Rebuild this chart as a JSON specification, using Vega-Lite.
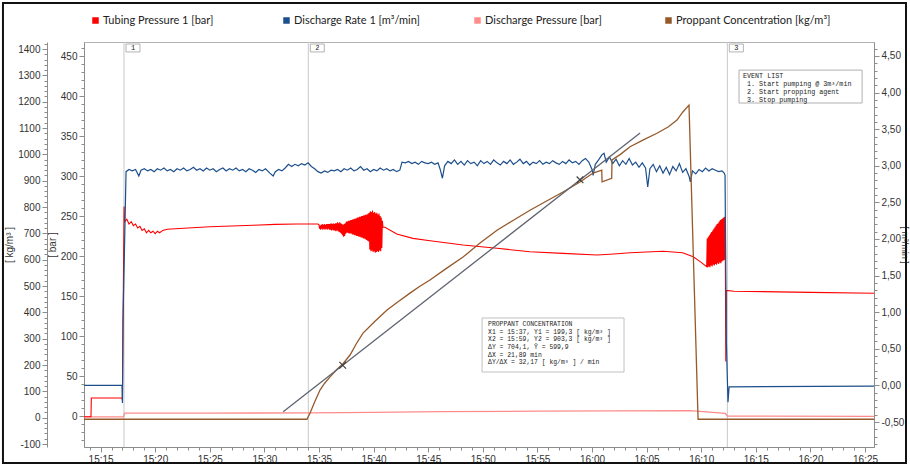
{
  "$schema": "https://vega.github.io/schema/vega-lite/v6.json",
  "width": 790,
  "height": 405,
  "autosize": {"type": "none"},
  "padding": {"left": 84, "top": 42, "right": 36, "bottom": 19},
  "background": "white",
  "config": {
    "font": "Liberation Sans",
    "view": {"stroke": "#b4b4b4", "strokeWidth": 1},
    "axis": {"labelFont": "Liberation Sans", "labelFontSize": 10, "labelColor": "#333333", "domainColor": "#8c8c8c", "tickColor": "#8c8c8c", "grid": false, "titleFont": "Liberation Sans", "titleFontSize": 10, "titleFontWeight": "normal", "titleColor": "#333333", "labelOverlap": false, "labelFlush": false, "labelBound": false}
  },
  "datasets": {
    "rate": [
      {"t":13.48,"v":0},{"t":16.96,"v":0},{"t":17.0,"v":-0.24},{"t":17.05,"v":0.87},{"t":17.33,"v":2.92},
      {"t":17.6,"v":2.95},{"t":17.9,"v":2.93},{"t":18.2,"v":2.95},{"t":18.5,"v":2.86},{"t":18.7,"v":2.94},{"t":19.0,"v":2.96},{"t":19.3,"v":2.93},{"t":19.6,"v":2.95},{"t":19.9,"v":2.92},{"t":20.2,"v":2.96},{"t":20.5,"v":2.94},{"t":20.8,"v":2.97},{"t":21.1,"v":2.93},{"t":21.4,"v":2.95},{"t":21.7,"v":2.92},{"t":22.0,"v":2.96},{"t":22.3,"v":2.94},{"t":22.6,"v":2.97},{"t":22.9,"v":2.93},{"t":23.2,"v":2.95},{"t":23.5,"v":2.98},{"t":23.8,"v":2.94},{"t":24.1,"v":2.96},{"t":24.4,"v":2.93},{"t":24.7,"v":2.97},{"t":25.0,"v":2.94},{"t":25.3,"v":2.96},{"t":25.6,"v":2.92},{"t":25.9,"v":2.95},{"t":26.2,"v":2.97},{"t":26.5,"v":2.93},{"t":26.8,"v":2.96},{"t":27.1,"v":2.94},{"t":27.4,"v":2.97},{"t":27.7,"v":2.93},{"t":28.0,"v":2.95},{"t":28.3,"v":2.92},{"t":28.6,"v":2.96},{"t":28.9,"v":2.94},{"t":29.2,"v":2.91},{"t":29.5,"v":2.95},{"t":29.8,"v":2.93},{"t":30.1,"v":2.96},{"t":30.5,"v":2.9},{"t":30.8,"v":2.86},{"t":31.0,"v":2.92},{"t":31.3,"v":2.95},{"t":31.6,"v":2.93},{"t":31.9,"v":2.97},{"t":32.2,"v":3.02},{"t":32.5,"v":2.99},{"t":32.8,"v":3.02},{"t":33.1,"v":3.0},{"t":33.4,"v":3.03},{"t":33.7,"v":3.01},{"t":34.0,"v":3.04},{"t":34.3,"v":2.99},{"t":34.6,"v":2.96},{"t":34.9,"v":2.92},{"t":35.2,"v":2.9},{"t":35.5,"v":2.93},{"t":35.8,"v":2.91},{"t":36.1,"v":2.94},{"t":36.4,"v":2.93},{"t":36.7,"v":2.95},{"t":37.0,"v":2.92},{"t":37.3,"v":2.96},{"t":37.6,"v":2.94},{"t":37.9,"v":2.97},{"t":38.2,"v":2.93},{"t":38.5,"v":2.95},{"t":38.8,"v":2.99},{"t":39.1,"v":2.94},{"t":39.4,"v":2.96},{"t":39.7,"v":2.92},{"t":40.0,"v":2.95},{"t":40.3,"v":2.93},{"t":40.6,"v":2.97},{"t":40.9,"v":2.94},{"t":41.2,"v":2.96},{"t":41.5,"v":2.93},{"t":41.8,"v":2.95},{"t":42.1,"v":2.92},{"t":42.4,"v":2.94},{"t":42.6,"v":3.05},{"t":42.9,"v":3.04},{"t":43.2,"v":3.06},{"t":43.5,"v":3.03},{"t":43.8,"v":3.05},{"t":44.1,"v":3.02},{"t":44.4,"v":3.06},{"t":44.7,"v":3.04},{"t":45.0,"v":3.03},{"t":45.3,"v":3.05},{"t":45.6,"v":3.02},{"t":45.9,"v":3.04},{"t":46.1,"v":2.95},{"t":46.3,"v":2.83},{"t":46.5,"v":3.0},{"t":46.8,"v":3.06},{"t":47.1,"v":3.03},{"t":47.4,"v":3.08},{"t":47.7,"v":3.02},{"t":48.0,"v":3.06},{"t":48.3,"v":3.01},{"t":48.6,"v":3.07},{"t":48.9,"v":3.03},{"t":49.2,"v":3.05},{"t":49.5,"v":3.0},{"t":49.8,"v":3.07},{"t":50.1,"v":3.03},{"t":50.4,"v":3.06},{"t":50.7,"v":3.02},{"t":51.0,"v":3.08},{"t":51.3,"v":3.04},{"t":51.6,"v":3.01},{"t":51.9,"v":3.06},{"t":52.2,"v":3.03},{"t":52.5,"v":3.08},{"t":52.8,"v":3.02},{"t":53.1,"v":3.05},{"t":53.4,"v":3.09},{"t":53.7,"v":3.03},{"t":54.0,"v":3.06},{"t":54.3,"v":3.01},{"t":54.6,"v":3.05},{"t":54.9,"v":3.03},{"t":55.2,"v":3.07},{"t":55.5,"v":3.02},{"t":55.8,"v":3.05},{"t":56.1,"v":3.03},{"t":56.4,"v":3.07},{"t":56.7,"v":3.04},{"t":57.0,"v":3.02},{"t":57.3,"v":3.06},{"t":57.6,"v":3.03},{"t":57.9,"v":3.08},{"t":58.2,"v":3.04},{"t":58.5,"v":3.06},{"t":58.8,"v":3.02},{"t":59.1,"v":3.07},{"t":59.4,"v":3.1},{"t":59.7,"v":3.05},{"t":60.0,"v":2.95},{"t":60.1,"v":2.87},{"t":60.3,"v":3.02},{"t":60.6,"v":3.08},{"t":60.9,"v":3.15},{"t":61.1,"v":3.17},{"t":61.3,"v":3.05},{"t":61.6,"v":3.12},{"t":61.9,"v":3.03},{"t":62.2,"v":3.09},{"t":62.5,"v":3.0},{"t":62.8,"v":3.07},{"t":63.1,"v":3.02},{"t":63.4,"v":3.1},{"t":63.7,"v":3.01},{"t":64.0,"v":3.05},{"t":64.3,"v":2.98},{"t":64.6,"v":3.04},{"t":64.9,"v":2.97},{"t":65.1,"v":2.71},{"t":65.3,"v":2.96},{"t":65.6,"v":3.02},{"t":65.9,"v":2.92},{"t":66.2,"v":3.0},{"t":66.5,"v":2.9},{"t":66.8,"v":2.98},{"t":67.1,"v":2.88},{"t":67.4,"v":2.99},{"t":67.7,"v":2.93},{"t":68.0,"v":3.03},{"t":68.3,"v":2.91},{"t":68.6,"v":2.96},{"t":68.9,"v":2.85},{"t":69.0,"v":2.78},{"t":69.2,"v":2.93},{"t":69.5,"v":2.89},{"t":69.8,"v":2.95},{"t":70.1,"v":2.92},{"t":70.4,"v":2.97},{"t":70.7,"v":2.93},{"t":71.0,"v":2.96},{"t":71.3,"v":2.94},{"t":71.6,"v":2.92},{"t":71.9,"v":2.93},{"t":72.1,"v":2.9},{"t":72.18,"v":2.87},{"t":72.3,"v":0.6},{"t":72.45,"v":-0.23},{"t":72.55,"v":-0.02},{"t":85.82,"v":-0.01}
    ],
    "tubing": [
      {"t":13.48,"v":-1},{"t":14.12,"v":-1},{"t":14.15,"v":22.5},{"t":16.95,"v":22.5},{"t":17.0,"v":20},{"t":17.05,"v":110},{"t":17.15,"v":262},{"t":17.2,"v":243},{"t":17.4,"v":246},{"t":17.6,"v":240},{"t":17.8,"v":243},{"t":18.0,"v":238},{"t":18.2,"v":240},{"t":18.4,"v":235},{"t":18.6,"v":237},{"t":18.8,"v":232},{"t":19.0,"v":234},{"t":19.2,"v":229},{"t":19.4,"v":232},{"t":19.6,"v":229},{"t":19.8,"v":231},{"t":20.0,"v":228},{"t":20.2,"v":231},{"t":20.4,"v":229},{"t":20.7,"v":232},{"t":21.1,"v":233.5},{"t":23,"v":235},{"t":25,"v":236.5},{"t":27,"v":237.5},{"t":29,"v":238.5},{"t":31,"v":239.5},{"t":33,"v":240},{"t":34.9,"v":240},
      {"t":35.0,"v":239},{"t":35.05,"v":234},{"t":35.1,"v":238},{"t":35.15,"v":233},{"t":35.2,"v":239},{"t":35.25,"v":234},{"t":35.3,"v":240},{"t":35.35,"v":233},{"t":35.4,"v":239},{"t":35.45,"v":234},{"t":35.5,"v":240},{"t":35.55,"v":233},{"t":35.6,"v":239},{"t":35.65,"v":234},{"t":35.7,"v":240},{"t":35.75,"v":233},{"t":35.8,"v":240},{"t":35.85,"v":234},{"t":35.9,"v":240},{"t":35.95,"v":233},{"t":36.0,"v":240},{"t":36.05,"v":233},{"t":36.1,"v":241},{"t":36.15,"v":232},{"t":36.2,"v":240},{"t":36.25,"v":233},{"t":36.3,"v":241},{"t":36.35,"v":232},{"t":36.4,"v":240},{"t":36.45,"v":232},{"t":36.5,"v":241},{"t":36.55,"v":231},{"t":36.6,"v":241},{"t":36.65,"v":232},{"t":36.7,"v":242},{"t":36.75,"v":231},{"t":36.8,"v":241},{"t":36.85,"v":230},{"t":36.9,"v":242},{"t":36.95,"v":229},{"t":37.0,"v":241},{"t":37.05,"v":228},{"t":37.1,"v":240},{"t":37.15,"v":226},{"t":37.2,"v":239},{"t":37.25,"v":224},{"t":37.3,"v":240},{"t":37.35,"v":225},{"t":37.4,"v":241},{"t":37.45,"v":228},{"t":37.5,"v":243},{"t":37.55,"v":229},{"t":37.6,"v":243},{"t":37.65,"v":229},{"t":37.7,"v":244},{"t":37.75,"v":228},{"t":37.8,"v":244},{"t":37.85,"v":228},{"t":37.9,"v":245},{"t":37.95,"v":228},{"t":38.0,"v":245},{"t":38.05,"v":227},{"t":38.1,"v":246},{"t":38.15,"v":227},{"t":38.2,"v":246},{"t":38.25,"v":226},{"t":38.3,"v":247},{"t":38.35,"v":226},{"t":38.4,"v":247},{"t":38.45,"v":225},{"t":38.5,"v":248},{"t":38.55,"v":225},{"t":38.6,"v":248},{"t":38.65,"v":224},{"t":38.7,"v":249},{"t":38.75,"v":224},{"t":38.8,"v":249},{"t":38.85,"v":223},{"t":38.9,"v":250},{"t":38.95,"v":223},{"t":39.0,"v":250},{"t":39.05,"v":222},{"t":39.1,"v":251},{"t":39.15,"v":222},{"t":39.2,"v":251},{"t":39.25,"v":221},{"t":39.3,"v":252},{"t":39.35,"v":220},{"t":39.4,"v":252},{"t":39.45,"v":219},{"t":39.5,"v":253},{"t":39.55,"v":218},{"t":39.6,"v":254},{"t":39.65,"v":208},{"t":39.7,"v":256},{"t":39.75,"v":206},{"t":39.8,"v":255},{"t":39.85,"v":207},{"t":39.9,"v":257},{"t":39.95,"v":205},{"t":40.0,"v":254},{"t":40.05,"v":206},{"t":40.1,"v":255},{"t":40.15,"v":204},{"t":40.2,"v":253},{"t":40.25,"v":205},{"t":40.3,"v":254},{"t":40.35,"v":206},{"t":40.4,"v":252},{"t":40.45,"v":205},{"t":40.5,"v":253},{"t":40.55,"v":207},{"t":40.6,"v":250},{"t":40.65,"v":206},{"t":40.7,"v":248},{"t":40.75,"v":210},{"t":40.8,"v":244},{"t":40.86,"v":236},
      {"t":41.04,"v":236},{"t":42.12,"v":227.5},{"t":43.6,"v":222},{"t":45.17,"v":219},{"t":48.19,"v":213.7},{"t":51.3,"v":209.6},{"t":54.32,"v":205.4},{"t":57.34,"v":203.3},{"t":60.46,"v":201.3},{"t":62,"v":202.5},{"t":63.48,"v":204},{"t":66.5,"v":206},{"t":68.3,"v":204},{"t":69.27,"v":199},{"t":69.9,"v":193},{"t":70.5,"v":186.7},
      {"t":70.55,"v":222},{"t":70.6,"v":186},{"t":70.65,"v":224},{"t":70.7,"v":187},{"t":70.75,"v":226},{"t":70.8,"v":186},{"t":70.85,"v":228},{"t":70.9,"v":188},{"t":70.95,"v":230},{"t":71.0,"v":187},{"t":71.05,"v":232},{"t":71.1,"v":189},{"t":71.15,"v":234},{"t":71.2,"v":188},{"t":71.25,"v":236},{"t":71.3,"v":190},{"t":71.35,"v":238},{"t":71.4,"v":189},{"t":71.45,"v":240},{"t":71.5,"v":191},{"t":71.55,"v":241},{"t":71.6,"v":190},{"t":71.65,"v":243},{"t":71.7,"v":192},{"t":71.75,"v":245},{"t":71.8,"v":191},{"t":71.85,"v":246},{"t":71.9,"v":193},{"t":71.95,"v":247},{"t":72.0,"v":194},{"t":72.05,"v":248},{"t":72.1,"v":195},{"t":72.15,"v":249},{"t":72.2,"v":210},{"t":72.25,"v":68},{"t":72.3,"v":157},{"t":73,"v":156},{"t":80,"v":154.5},{"t":85.82,"v":153.5}
    ],
    "discharge": [
      {"t":13.48,"v":-1},{"t":17.1,"v":-1},{"t":17.2,"v":3.5},{"t":25,"v":3.5},{"t":34,"v":4},{"t":40,"v":4.5},{"t":46,"v":5.4},{"t":55,"v":6},{"t":62,"v":6.5},{"t":69,"v":6.6},{"t":72.2,"v":3.4},{"t":72.4,"v":0},{"t":85.82,"v":-0.5}
    ],
    "proppant": [
      {"t":13.48,"v":-6},{"t":33.9,"v":-6},{"t":34.18,"v":18},{"t":34.6,"v":60},{"t":35.09,"v":105},{"t":35.5,"v":130},{"t":36.01,"v":155},{"t":36.6,"v":182},{"t":37.2,"v":205},{"t":37.84,"v":238},{"t":38.4,"v":280},{"t":39.03,"v":321},{"t":40.1,"v":365},{"t":41.23,"v":409},{"t":42.3,"v":442},{"t":43.33,"v":473},{"t":44.2,"v":498},{"t":45.16,"v":523},{"t":46.7,"v":568},{"t":48.19,"v":610},{"t":49.8,"v":665},{"t":51.3,"v":712},{"t":52.8,"v":750},{"t":54.32,"v":788},{"t":55.8,"v":822},{"t":57.34,"v":857},{"t":58.9,"v":895},{"t":60.09,"v":929},{"t":60.89,"v":940},{"t":60.92,"v":896},{"t":61.8,"v":909},{"t":61.83,"v":979},{"t":62.6,"v":1000},{"t":63.48,"v":1029},{"t":64.7,"v":1055},{"t":65.95,"v":1080},{"t":67.0,"v":1105},{"t":67.78,"v":1130},{"t":68.3,"v":1160},{"t":68.88,"v":1187},{"t":69.71,"v":-6},{"t":85.82,"v":-6}
    ],
    "events": [{"t":17.14,"n":"1"},{"t":34.02,"n":"2"},{"t":72.39,"n":"3"}],
    "fit": [{"t":31.72,"v":22.7},{"t":64.4,"v":1081}],
    "fitpts": [{"t":37.17,"v":199.3},{"t":58.9,"v":903.3}]
  },
  "resolve": {"scale": {"y": "independent"}, "axis": {"x": "independent"}},
  "layer": [
    {
      "data": {"values": [{"k": "frame"}]},
      "mark": {"type": "rect", "fill": null, "fillOpacity": 0, "stroke": "#111111", "strokeWidth": 2, "clip": false},
      "encoding": {
        "x": {"datum": 6.06, "type": "quantitative", "axis": null},
        "x2": {"datum": 88.75},
        "y": {"datum": 1574.8, "type": "quantitative", "scale": {"domain": [-111.3, 1426.7], "nice": false, "zero": false}, "axis": null},
        "y2": {"datum": -172}
      }
    },
    {
      "data": {"name": "events"},
      "mark": {"type": "rule", "color": "#c8c8c8", "strokeWidth": 1},
      "encoding": {
        "x": {"field": "t", "type": "quantitative", "scale": {"domain": [13.48, 85.82], "nice": false, "zero": false},
          "axis": {"title": null, "labelOverlap": false, "values": [14,15,16,17,18,19,20,21,22,23,24,25,26,27,28,29,30,31,32,33,34,35,36,37,38,39,40,41,42,43,44,45,46,47,48,49,50,51,52,53,54,55,56,57,58,59,60,61,62,63,64,65,66,67,68,69,70,71,72,73,74,75,76,77,78,79,80,81,82,83,84,85],
            "labelExpr": "datum.value % 5 == 0 ? (15 + floor(datum.value / 60)) + ':' + format(datum.value % 60, '02d') : ''",
            "tickSize": {"condition": {"test": "datum.value % 5 == 0", "value": 5}, "value": 3},
            "labelPadding": 2}}
      }
    },
    {
      "data": {"name": "events"},
      "mark": {"type": "rect", "fill": "white", "stroke": "#a0a0a0", "strokeWidth": 0.8, "xOffset": 2, "x2Offset": 16},
      "encoding": {
        "x": {"field": "t", "type": "quantitative", "axis": null},
        "x2": {"field": "t"},
        "y": {"datum": 1419, "type": "quantitative", "scale": {"domain": [-111.3, 1426.7], "nice": false, "zero": false}, "axis": null},
        "y2": {"datum": 1389}
      }
    },
    {
      "data": {"name": "events"},
      "mark": {"type": "text", "font": "Liberation Mono", "fontSize": 7, "dx": 9, "align": "center", "baseline": "middle", "color": "#222222"},
      "encoding": {
        "x": {"field": "t", "type": "quantitative", "axis": null},
        "y": {"datum": 1404, "type": "quantitative", "scale": {"domain": [-111.3, 1426.7], "nice": false, "zero": false}, "axis": null},
        "text": {"field": "n"}
      }
    },
    {
      "data": {"name": "discharge"},
      "mark": {"type": "line", "strokeWidth": 1.3},
      "encoding": {
        "x": {"field": "t", "type": "quantitative", "axis": null},
        "y": {"field": "v", "type": "quantitative", "scale": {"domain": [-38.75, 467.5], "nice": false, "zero": false}, "axis": null},
        "color": {"datum": "Discharge Pressure [bar]",
          "scale": {"domain": ["Tubing Pressure 1 [bar]", "Discharge Rate 1 [m³/min]", "Discharge Pressure [bar]", "Proppant Concentration [kg/m³]"], "range": ["#ff0000", "#1c4f8c", "#ff8c8c", "#96592a"]},
          "legend": {"title": null, "orient": "none", "legendX": 6, "legendY": -27, "direction": "horizontal", "columns": 4, "gridAlign": "all", "columnPadding": 20, "labelFont": "Lato", "labelFontSize": 11, "labelColor": "#222222", "labelLimit": 400, "symbolType": "square", "symbolSize": 9, "symbolStrokeWidth": 3.5, "labelOffset": 2, "padding": 0}}
      }
    },
    {
      "data": {"name": "tubing"},
      "mark": {"type": "line", "strokeWidth": 1.1},
      "encoding": {
        "x": {"field": "t", "type": "quantitative", "axis": null},
        "y": {"field": "v", "type": "quantitative", "scale": {"domain": [-38.75, 467.5], "nice": false, "zero": false},
          "axis": {"orient": "left", "offset": 0, "title": "[ bar ]", "titlePadding": 3, "labelOverlap": false,
            "values": [-30,-20,-10,0,10,20,30,40,50,60,70,80,90,100,110,120,130,140,150,160,170,180,190,200,210,220,230,240,250,260,270,280,290,300,310,320,330,340,350,360,370,380,390,400,410,420,430,440,450,460],
            "labelExpr": "datum.value % 50 == 0 ? '' + datum.value : ''",
            "tickSize": {"condition": {"test": "datum.value % 50 == 0", "value": 5}, "value": 3}, "labelPadding": 2}},
        "color": {"datum": "Tubing Pressure 1 [bar]"}
      }
    },
    {
      "data": {"name": "rate"},
      "mark": {"type": "line", "strokeWidth": 1.2},
      "encoding": {
        "x": {"field": "t", "type": "quantitative", "axis": null},
        "y": {"field": "v", "type": "quantitative", "scale": {"domain": [-0.8415, 4.691], "nice": false, "zero": false},
          "axis": {"orient": "right", "offset": 0, "title": "[ m³/min ]", "titleFontSize": 9, "titleX": 25, "labelOverlap": false,
            "values": [-0.8,-0.7,-0.6,-0.5,-0.4,-0.3,-0.2,-0.1,0,0.1,0.2,0.3,0.4,0.5,0.6,0.7,0.8,0.9,1,1.1,1.2,1.3,1.4,1.5,1.6,1.7,1.8,1.9,2,2.1,2.2,2.3,2.4,2.5,2.6,2.7,2.8,2.9,3,3.1,3.2,3.3,3.4,3.5,3.6,3.7,3.8,3.9,4,4.1,4.2,4.3,4.4,4.5,4.6],
            "labelExpr": "abs(datum.value * 2 - round(datum.value * 2)) < 0.01 ? (datum.value < -0.001 ? '-' : '') + replace(format(abs(datum.value), '.2f'), '.', ',') : ''",
            "tickSize": {"condition": {"test": "abs(datum.value * 2 - round(datum.value * 2)) < 0.01", "value": 5}, "value": 3}, "labelPadding": 2}},
        "color": {"datum": "Discharge Rate 1 [m³/min]"}
      }
    },
    {
      "data": {"name": "proppant"},
      "mark": {"type": "line", "strokeWidth": 1.3},
      "encoding": {
        "x": {"field": "t", "type": "quantitative", "axis": null},
        "y": {"field": "v", "type": "quantitative", "scale": {"domain": [-111.3, 1426.7], "nice": false, "zero": false},
          "axis": {"orient": "left", "offset": 37, "title": "[ kg/m³ ]", "titlePadding": 3, "labelOverlap": false,
            "values": [-100,-80,-60,-40,-20,0,20,40,60,80,100,120,140,160,180,200,220,240,260,280,300,320,340,360,380,400,420,440,460,480,500,520,540,560,580,600,620,640,660,680,700,720,740,760,780,800,820,840,860,880,900,920,940,960,980,1000,1020,1040,1060,1080,1100,1120,1140,1160,1180,1200,1220,1240,1260,1280,1300,1320,1340,1360,1380,1400,1420],
            "labelExpr": "datum.value % 100 == 0 ? '' + datum.value : ''",
            "tickSize": {"condition": {"test": "datum.value % 100 == 0", "value": 5}, "value": 3}, "labelPadding": 2}},
        "color": {"datum": "Proppant Concentration [kg/m³]"}
      }
    },
    {
      "data": {"name": "fit"},
      "mark": {"type": "line", "color": "#5f6470", "strokeWidth": 1.3},
      "encoding": {
        "x": {"field": "t", "type": "quantitative", "axis": null},
        "y": {"field": "v", "type": "quantitative", "scale": {"domain": [-111.3, 1426.7], "nice": false, "zero": false}, "axis": null}
      }
    },
    {
      "data": {"name": "fitpts"},
      "mark": {"type": "point", "shape": "M-1,-1L1,1M-1,1L1,-1", "size": 45, "filled": false, "color": "#404040", "strokeWidth": 1.2, "opacity": 1},
      "encoding": {
        "x": {"field": "t", "type": "quantitative", "axis": null},
        "y": {"field": "v", "type": "quantitative", "scale": {"domain": [-111.3, 1426.7], "nice": false, "zero": false}, "axis": null}
      }
    },
    {
      "data": {"values": [{"head": "EVENT LIST", "items": "1. Start pumping @ 3m³/min\n2. Start propping agent\n3. Stop pumping"}]},
      "layer": [
        {
          "mark": {"type": "rect", "fill": "white", "stroke": "#b0b0b0", "strokeWidth": 1},
          "encoding": {
            "x": {"datum": 73.46, "type": "quantitative", "axis": null},
            "x2": {"datum": 84.73},
            "y": {"datum": 1320, "type": "quantitative", "scale": {"domain": [-111.3, 1426.7], "nice": false, "zero": false}, "axis": null},
            "y2": {"datum": 1195}
          }
        },
        {
          "mark": {"type": "text", "font": "Liberation Mono", "fontSize": 6.7, "align": "left", "baseline": "top", "color": "#222222"},
          "encoding": {
            "x": {"datum": 73.83, "type": "quantitative", "axis": null},
            "y": {"datum": 1308, "type": "quantitative", "scale": {"domain": [-111.3, 1426.7], "nice": false, "zero": false}, "axis": null},
            "text": {"field": "head"}
          }
        },
        {
          "mark": {"type": "text", "font": "Liberation Mono", "fontSize": 6.7, "lineHeight": 8, "align": "left", "baseline": "top", "color": "#222222", "lineBreak": "\n", "dx": 4, "dy": 8},
          "encoding": {
            "x": {"datum": 73.83, "type": "quantitative", "axis": null},
            "y": {"datum": 1308, "type": "quantitative", "scale": {"domain": [-111.3, 1426.7], "nice": false, "zero": false}, "axis": null},
            "text": {"field": "items"}
          }
        }
      ]
    },
    {
      "data": {"values": [{"txt": "PROPPANT CONCENTRATION\nX1 = 15:37, Y1 = 199,3 [ kg/m³ ]\nX2 = 15:59, Y2 = 903,3 [ kg/m³ ]\nΔY = 704,1, Ȳ = 599,9\nΔX = 21,89 min\nΔY/ΔX = 32,17 [ kg/m³ ] / min"}]},
      "layer": [
        {
          "mark": {"type": "rect", "fill": "white", "stroke": "#c0c0c0", "strokeWidth": 1},
          "encoding": {
            "x": {"datum": 49.93, "type": "quantitative", "axis": null},
            "x2": {"datum": 62.93},
            "y": {"datum": 378.6, "type": "quantitative", "scale": {"domain": [-111.3, 1426.7], "nice": false, "zero": false}, "axis": null},
            "y2": {"datum": 173.5}
          }
        },
        {
          "mark": {"type": "text", "font": "Liberation Mono", "fontSize": 6.4, "lineHeight": 7.7, "align": "left", "baseline": "top", "color": "#222222", "lineBreak": "\n"},
          "encoding": {
            "x": {"datum": 50.48, "type": "quantitative", "axis": null},
            "y": {"datum": 367.2, "type": "quantitative", "scale": {"domain": [-111.3, 1426.7], "nice": false, "zero": false}, "axis": null},
            "text": {"field": "txt"}
          }
        }
      ]
    }
  ]
}
